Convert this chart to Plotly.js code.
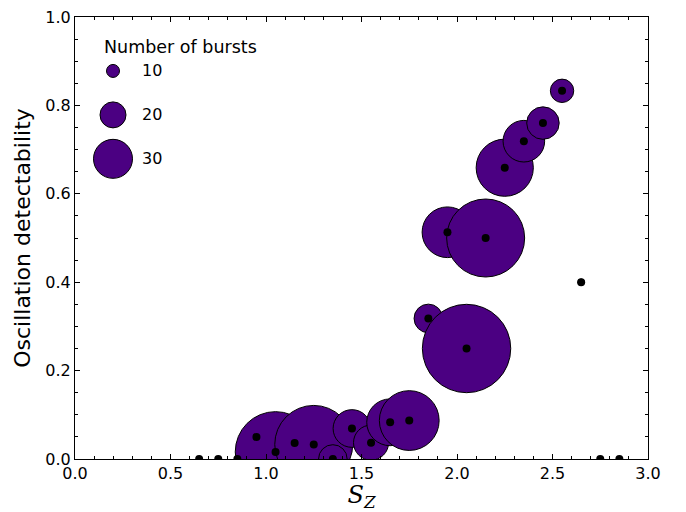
<!DOCTYPE html>
<html>
<head>
<meta charset="utf-8">
<script src="https://cdn.plot.ly/plotly-3.0.1.min.js"></script>
<style>html,body{margin:0;padding:0;background:#fff;} #chart{width:686px;height:512px;}</style>
</head>
<body>
<div id="chart"></div>
<script>
// S_Z bin centres
var sz = [0.65, 0.75, 0.85, 0.95, 1.05, 1.15, 1.25, 1.35, 1.45, 1.55, 1.65, 1.75, 1.85, 1.95, 2.05, 2.15, 2.25, 2.35, 2.45, 2.55, 2.65, 2.75, 2.85];
// oscillation detectability per bin
var detect = [0, 0, 0, 0.05, 0.016, 0.036, 0.033, 0, 0.069, 0.037, 0.083, 0.087, 0.318, 0.513, 0.25, 0.5, 0.659, 0.719, 0.76, 0.833, 0.4, 0, 0];
// number of bursts per bin
var bursts = [2, 2, 2, 20, 62, 28, 60, 22, 29, 27, 36, 46, 22, 39, 68, 60, 44, 32, 25, 18, 5, 2, 2];
// legend reference values
var legendVals = [10, 20, 30];
var legendTitle = "Number of bursts";

var RPX = 0.65; // radius in px per burst
var purple = "#4b0082";
var font = "DejaVu Sans, sans-serif";

var bubbles = {
  x: sz, y: detect, type: "scatter", mode: "markers", showlegend: false, hoverinfo: "skip",
  marker: {
    size: bursts.map(function (n) { return 2 * RPX * n; }),
    sizemode: "diameter",
    color: purple,
    opacity: 1,
    line: {color: "#000", width: 1}
  }
};
var dots = {
  x: sz, y: detect, type: "scatter", mode: "markers", showlegend: false,
  marker: {size: 8, color: "#000", opacity: 1, line: {width: 0}}
};

// legend drawn as layout items
var plotL = 75, plotR = 648, plotT = 17, plotB = 459.5;
var legX = [113, 140, 102];
var legY = [71, 115, 159];
function px2x(p) { return (p - plotL) / (plotR - plotL); }
function py2y(p) { return (plotB - p) / (plotB - plotT); }

var shapes = [], annotations = [];
legendVals.forEach(function (v, i) {
  var r = RPX * v;
  shapes.push({
    type: "circle", xref: "paper", yref: "paper",
    xsizemode: "pixel", ysizemode: "pixel",
    xanchor: px2x(legX[0]), yanchor: py2y(legY[i]),
    x0: -r, x1: r, y0: -r, y1: r,
    fillcolor: purple, line: {color: "#000", width: 1}
  });
  annotations.push({
    xref: "paper", yref: "paper", x: px2x(legX[1]), y: py2y(legY[i]),
    xanchor: "left", yanchor: "middle", showarrow: false,
    text: String(v), font: {family: font, size: 16, color: "#000"}
  });
});
annotations.push({
  xref: "paper", yref: "paper", x: px2x(legX[2]), y: py2y(47),
  xanchor: "left", yanchor: "middle", showarrow: false,
  text: legendTitle, font: {family: font, size: 17.5, color: "#000"}
});

var axisCommon = {
  ticks: "inside", ticklen: 5, tickwidth: 1, tickcolor: "#000",
  showline: true, linecolor: "#000", linewidth: 1, mirror: "allticks",
  showgrid: false, zeroline: false, tickformat: ".1f",
  tickfont: {family: font, size: 16, color: "#000"}
};

var layout = {
  width: 686, height: 512,
  margin: {l: 75, r: 38, t: 17, b: 52.5, pad: 0},
  paper_bgcolor: "#fff", plot_bgcolor: "#fff",
  showlegend: false,
  xaxis: Object.assign({}, axisCommon, {
    range: [0, 3], dtick: 0.5, tick0: 0,
    minor: {dtick: 0.1, ticks: "inside", ticklen: 3, tickcolor: "#000", tickwidth: 1},
    title: {text: "<i>S<sub>Z</sub></i>", font: {family: "DejaVu Serif, serif", size: 24, color: "#000"}, standoff: 9}
  }),
  yaxis: Object.assign({}, axisCommon, {
    range: [0, 1], dtick: 0.2, tick0: 0,
    minor: {dtick: 0.05, ticks: "inside", ticklen: 3, tickcolor: "#000", tickwidth: 1},
    title: {text: "Oscillation detectability", font: {family: font, size: 22, color: "#000"}, standoff: 8}
  }),
  shapes: shapes,
  annotations: annotations
};

Plotly.newPlot("chart", [bubbles, dots], layout, {displayModeBar: false, staticPlot: true});
</script>
</body>
</html>
